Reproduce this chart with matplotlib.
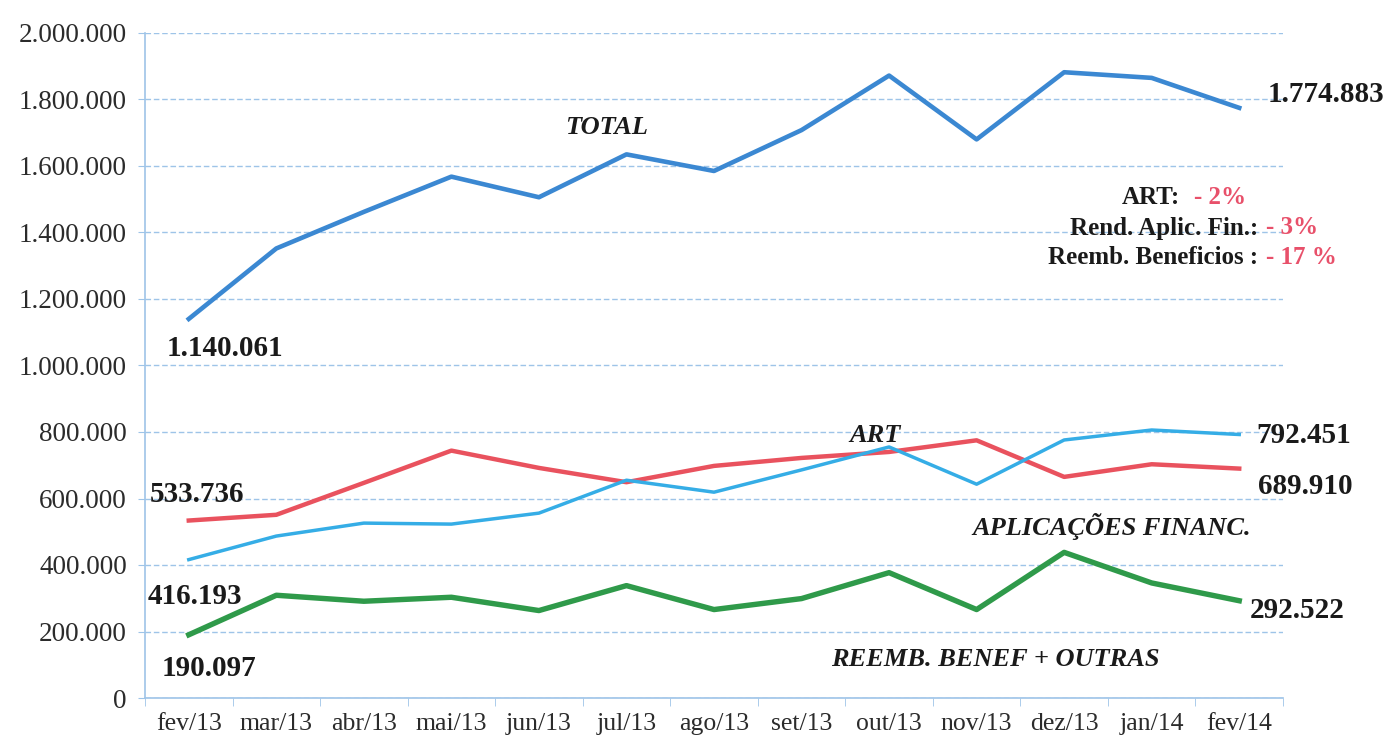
import matplotlib
matplotlib.use("Agg")
import matplotlib.pyplot as plt
from matplotlib.ticker import FuncFormatter, MultipleLocator, FixedLocator

plt.rcParams['font.family'] = ['Liberation Serif', 'DejaVu Serif']

meses = ['fev/13', 'mar/13', 'abr/13', 'mai/13', 'jun/13', 'jul/13', 'ago/13',
         'set/13', 'out/13', 'nov/13', 'dez/13', 'jan/14', 'fev/14']

total = [1140061, 1352000, 1462000, 1568000, 1506000, 1635000, 1585000,
         1708000, 1872000, 1680000, 1882000, 1865000, 1774883]
art = [533736, 551000, 647000, 744000, 692000, 649000, 698000,
       722000, 740000, 775000, 665000, 703000, 689910]
aplic = [416193, 487000, 526000, 523000, 556000, 655000, 619000,
         686000, 755000, 643000, 776000, 806000, 792451]
reemb = [190097, 309000, 291000, 303000, 263000, 338000, 266000,
         299000, 377000, 266000, 438000, 346000, 292522]

# rotulos de valor (primeiro e ultimo ponto)
rot_total = ['1.140.061', '1.774.883']
rot_art = ['533.736', '689.910']
rot_aplic = ['416.193', '792.451']
rot_reemb = ['190.097', '292.522']

W, H = 1388, 746
fig = plt.figure(figsize=(W / 100, H / 100), dpi=100)
ax = fig.add_axes([145 / W, 1 - 698 / H, (1283 - 145) / W, (698 - 33) / H])

grid_c = '#9ec4e8'
x = list(range(len(meses)))
ax.plot(x, total, color='#3b88d2', lw=3.3, zorder=3)
ax.plot(x, art, color='#e9525e', lw=3.2, zorder=3)
ax.plot(x, aplic, color='#35ade6', lw=2.5, zorder=3)
ax.plot(x, reemb, color='#2f9a4a', lw=3.9, zorder=3)

ax.set_xlim(-0.5, len(meses) - 0.5)
ax.set_ylim(0, 2000000)
ax.yaxis.set_major_locator(MultipleLocator(200000))
ax.yaxis.set_major_formatter(FuncFormatter(lambda v, p: f"{int(v):,}".replace(',', '.')))
ax.set_xticks(x)
ax.set_xticklabels(meses)
ax.xaxis.set_minor_locator(FixedLocator([i + 0.5 for i in range(-1, len(meses))]))

ax.grid(axis='y', color=grid_c, lw=1.0, ls=(0, (4, 2)))
ax.set_axisbelow(True)
for s in ['top', 'right']:
    ax.spines[s].set_visible(False)
for s in ['left', 'bottom']:
    ax.spines[s].set_color(grid_c)
    ax.spines[s].set_linewidth(1.2)

ax.tick_params(axis='y', colors=grid_c, length=5, pad=8, labelsize=19.5, labelcolor='#2b2b2b')
ax.tick_params(axis='x', which='major', length=0, pad=11, labelsize=18.5, labelcolor='#2b2b2b')
ax.tick_params(axis='x', which='minor', length=6, color=grid_c)

def ftxt(px, py, s, **kw):
    fig.text(px / W, 1 - py / H, s, **kw)

val_kw = dict(fontsize=21, fontweight='bold', color='#1a1a1a', va='center')
ftxt(225, 348, rot_total[0], ha='center', **val_kw)
ftxt(1268, 95, rot_total[1], ha='left', **val_kw)
ftxt(150, 495, rot_art[0], ha='left', **val_kw)
ftxt(1258, 487, rot_art[1], ha='left', **val_kw)
ftxt(148, 597, rot_aplic[0], ha='left', **val_kw)
ftxt(1256, 436, rot_aplic[1], ha='left', **val_kw)
ftxt(162, 668, rot_reemb[0], ha='left', **val_kw)
ftxt(1250, 610, rot_reemb[1], ha='left', **val_kw)

nome_kw = dict(fontsize=19, fontweight='bold', fontstyle='italic', color='#1a1a1a',
               ha='center', va='center')
ftxt(607, 128, 'TOTAL', **nome_kw)
ftxt(875, 435, 'ART', **nome_kw)
ftxt(1112, 527, 'APLICAÇÕES FINANC.', **nome_kw)
ftxt(995, 660, 'REEMB. BENEF + OUTRAS', **nome_kw)

var_kw = dict(fontsize=18, fontweight='bold', va='center')
ftxt(1180, 198, 'ART:', ha='right', color='#1a1a1a', **var_kw)
ftxt(1194, 198, '- 2%', ha='left', color='#e8506a', **var_kw)
ftxt(1258, 228, 'Rend. Aplic. Fin.:', ha='right', color='#1a1a1a', **var_kw)
ftxt(1266, 228, '- 3%', ha='left', color='#e8506a', **var_kw)
ftxt(1258, 257, 'Reemb. Beneficios :', ha='right', color='#1a1a1a', **var_kw)
ftxt(1266, 257, '- 17 %', ha='left', color='#e8506a', **var_kw)

fig.savefig('out.png', dpi=100)
